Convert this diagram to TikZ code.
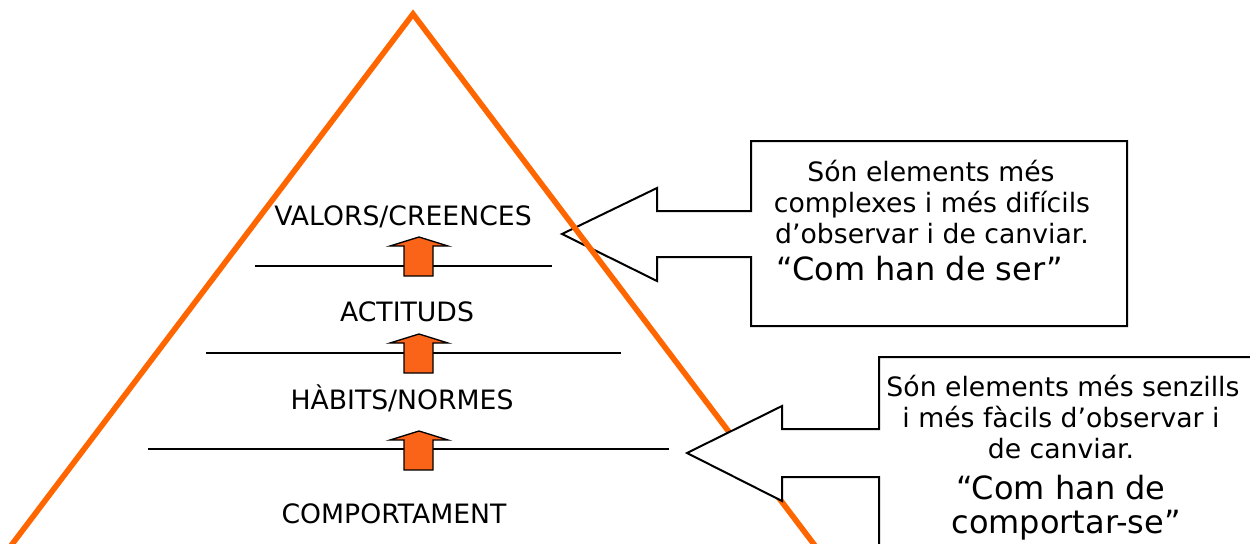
\documentclass[tikz,border=0pt]{standalone}
\usepackage{fontspec}
\setmainfont{DejaVu Sans}
\definecolor{tri}{HTML}{FF6600}
\definecolor{arr}{HTML}{FA6418}
\begin{document}
\begin{tikzpicture}[x=0.75pt,y=-0.75pt,
  lbl/.style={font=\fontsize{20}{24}\selectfont, anchor=base, inner sep=0pt},
  big/.style={font=\fontsize{24}{28}\selectfont, anchor=base, inner sep=0pt},
  sepline/.style={draw=black, line width=1.4pt},
  callout/.style={draw=black, line width=1.5pt, fill=white, line join=miter},
  uparrow/.style={draw=black, line width=1pt, fill=arr, line join=miter},
  pyramid/.style={draw=tri, line width=4.2pt, line join=miter}
]
\useasboundingbox (0,0) rectangle (1250,543);
\clip (0,0) rectangle (1250,543);
\fill[white] (0,0) rectangle (1250,543);

% callout 1 (behind the triangle)
\draw[callout] (751,141) -- (1127,141) -- (1127,326) -- (751,326) -- (751,257)
  -- (657,257) -- (657,281) -- (562,234) -- (657,188) -- (657,211) -- (751,211) -- cycle;

% pyramid
\coordinate (apex) at (413,14);
\coordinate (bl) at (10,547);
\coordinate (br) at (816,547);
\draw[pyramid] (apex) -- (br) -- (bl) -- cycle;

% callout 2 (in front of the triangle)
\draw[callout] (879,357) -- (1254,357) -- (1254,560) -- (879,560) -- (879,477)
  -- (782,477) -- (782,501) -- (687,453) -- (782,406) -- (782,429) -- (879,429) -- cycle;

% level separators
\coordinate (l1a) at (255,266); \coordinate (l1b) at (552,266);
\coordinate (l2a) at (206,353); \coordinate (l2b) at (621,353);
\coordinate (l3a) at (148,449); \coordinate (l3b) at (669,449);
\draw[sepline] (l1a) -- (l1b);
\draw[sepline] (l2a) -- (l2b);
\draw[sepline] (l3a) -- (l3b);

% up arrows
\foreach \y in {237,334,431}{
  \draw[uparrow] (419,\y) -- (448,\y+9) -- (433,\y+9) -- (433,\y+39)
    -- (404,\y+39) -- (404,\y+9) -- (390,\y+9) -- cycle;
}

% level labels
\node[lbl] (valors) at (403,225) {VALORS/CREENCES};
\node[lbl] (actituds) at (407,321) {ACTITUDS};
\node[lbl] (habits) at (402,409) {HÀBITS/NORMES};
\node[lbl] (comport) at (394,523) {COMPORTAMENT};

% callout 1 text
\node[lbl] (c1a) at (931,181) {Són elements més};
\node[lbl] (c1b) at (932,212) {complexes i més difícils};
\node[lbl] (c1c) at (932,243) {d’observar i de canviar.};
\node[big] (c1d) at (920,280) {“Com han de ser”};

% callout 2 text
\node[lbl] (c2a) at (1063,396) {Són elements més senzills};
\node[lbl] (c2b) at (1061,427) {i més fàcils d’observar i};
\node[lbl] (c2c) at (1061,458) {de canviar.};
\node[big] (c2d) at (1061,499) {“Com han de};
\node[big] (c2e) at (1066,533) {comportar-se”};
\end{tikzpicture}
\end{document}
